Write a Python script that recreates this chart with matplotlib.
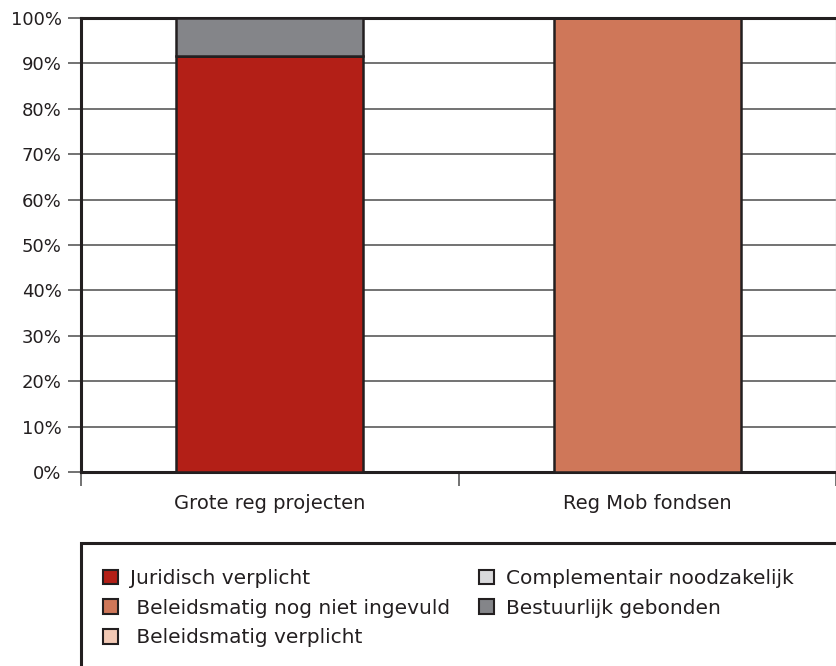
import matplotlib.pyplot as plt
from matplotlib.patches import Patch, Rectangle
from matplotlib.ticker import FuncFormatter
import numpy as np

plt.rcParams["font.family"] = ["DejaVu Sans"]

CATEGORIES = ["Grote reg projecten", "Reg Mob fondsen"]
SERIES = [
    "Juridisch verplicht",
    "Beleidsmatig nog niet ingevuld",
    "Beleidsmatig verplicht",
    "Complementair noodzakelijk",
    "Bestuurlijk gebonden",
]
# percentage per category, stacked bottom to top in SERIES order
VALUES = [
    [91.7, 0.0],
    [0.0, 100.0],
    [0.0, 0.0],
    [0.0, 0.0],
    [8.3, 0.0],
]
COLORS = ["#b31f17", "#cf7759", "#f2c9b5", "#d9d9db", "#848589"]
LEGEND_LABELS = [
    "Juridisch verplicht",
    " Beleidsmatig nog niet ingevuld",
    " Beleidsmatig verplicht",
    "Complementair noodzakelijk",
    "Bestuurlijk gebonden",
]
YTICKS = np.arange(0, 101, 10)

EDGE = "#231f20"
GRID = "#5a5a5a"

fig = plt.figure(figsize=(8.36, 6.66), dpi=100)
ax = fig.add_axes([81 / 836, 194 / 666, 1 - 81 / 836, 454 / 666])

x = np.arange(len(CATEGORIES))
bottom = np.zeros(len(CATEGORIES))
for vals, color in zip(VALUES, COLORS):
    vals = np.array(vals)
    ax.bar(x, vals, width=0.495, bottom=bottom, color=color,
           edgecolor=EDGE, linewidth=1.8, zorder=3)
    bottom += vals

ax.set_xlim(-0.5, 1.5)
ax.set_ylim(0, 100)
ax.set_yticks(YTICKS)
ax.yaxis.set_major_formatter(FuncFormatter(lambda v, p: f"{v:.0f}%"))
ax.yaxis.grid(True, color=GRID, linewidth=1.2, zorder=1)
ax.tick_params(axis="y", length=9.5, width=1.2, color=GRID, labelsize=13, pad=4.5,
               labelcolor=EDGE)

ax.set_xticks([-0.5, 0.5, 1.5])
ax.set_xticklabels([])
ax.set_xticks(x, minor=True)
ax.set_xticklabels(CATEGORIES, minor=True)
ax.tick_params(axis="x", which="major", length=10, width=1.2, color=GRID)
ax.tick_params(axis="x", which="minor", length=0, labelsize=14, pad=16,
               labelcolor=EDGE)

for side in ["left", "top", "bottom"]:
    ax.spines[side].set_color(EDGE)
    ax.spines[side].set_linewidth(2.2)
ax.spines["right"].set_color("#cccccc")
ax.spines["right"].set_linewidth(1)
ax.set_axisbelow(True)

# legend box runs off the bottom and right of the figure
fig.patches.append(Rectangle((81 / 836, -0.1), 1.0, (666 - 543) / 666 + 0.1,
                             transform=fig.transFigure, fill=False,
                             edgecolor=EDGE, linewidth=2.2))

handles = [Patch(facecolor=c, edgecolor=EDGE, linewidth=1.5) for c in COLORS]
fig.legend(handles, LEGEND_LABELS, ncol=2, frameon=False, fontsize=14.5,
           loc="upper left", bbox_to_anchor=(85 / 836, (666 - 551) / 666),
           handlelength=0.75, handleheight=0.75, handletextpad=0.6,
           columnspacing=1.4, labelspacing=0.53, labelcolor=EDGE)

fig.savefig("out.png", dpi=100)
